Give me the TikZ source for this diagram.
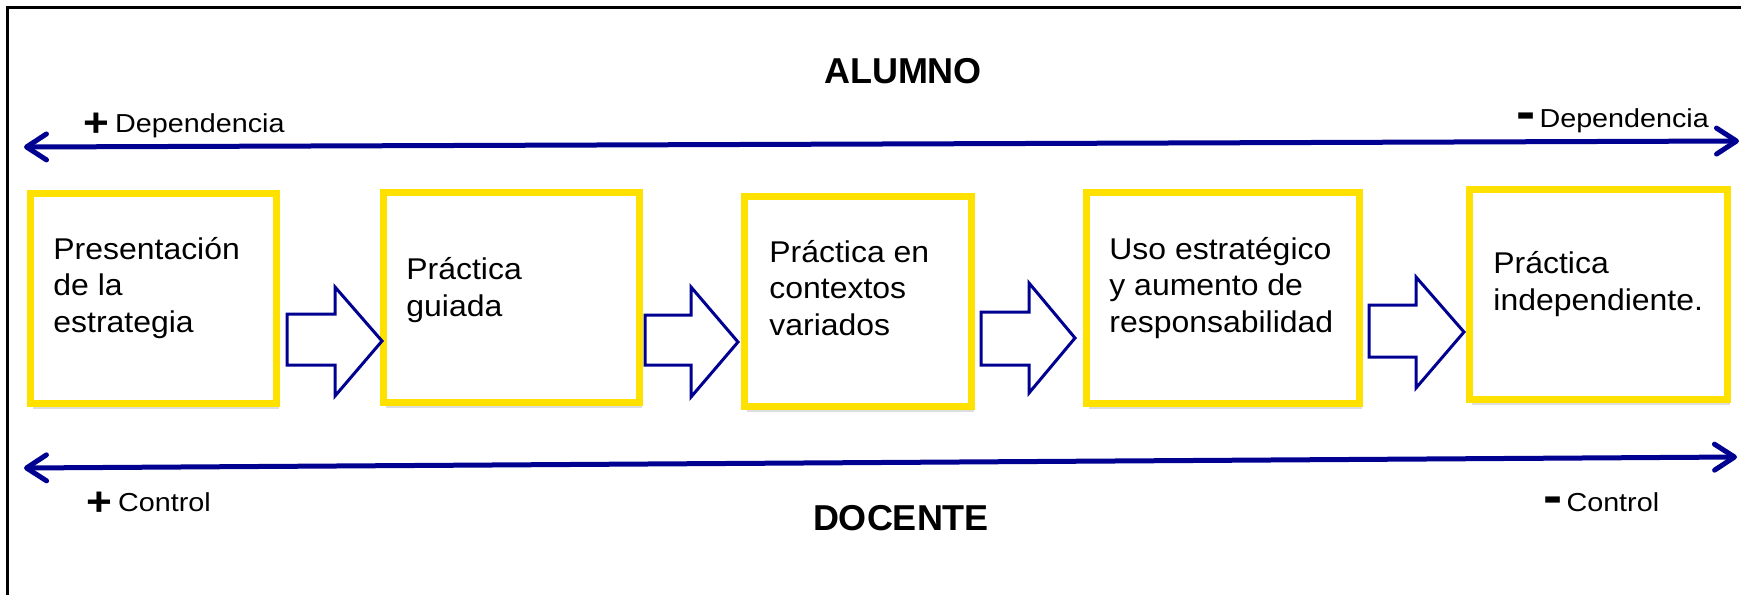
\documentclass[tikz,border=0pt]{standalone}
\usepackage{fontspec}
\setmainfont{Liberation Sans}
\newfontfamily\boxfont[FakeStretch=1.065]{Liberation Sans}
\newfontfamily\lblfont[FakeStretch=1.105]{Liberation Sans}
\usetikzlibrary{arrows.meta,shadows}
\definecolor{darknavy}{RGB}{0,0,145}
\definecolor{boxyellow}{RGB}{255,225,0}
\newcommand\mysignplus{\raisebox{-2.25pt}{\fontsize{20pt}{20pt}\selectfont\bfseries +}}
\newcommand\mysignminus{\raisebox{-1pt}{\fontsize{26pt}{26pt}\selectfont\bfseries -}}
\begin{document}
\begin{tikzpicture}[x=0.5pt,y=-0.5pt,
  stage/.style={draw=boxyellow, line width=3.75pt, fill=white, inner sep=0pt,
    drop shadow={shadow xshift=1pt,shadow yshift=-2.5pt,opacity=0.22,fill=black!60}},
  stagetext/.style={anchor=base west, inner sep=0pt, align=left,
    font=\boxfont\fontsize{15pt}{18.25pt}\selectfont},
  axisline/.style={draw=darknavy, line width=2.5pt,
    {Straight Barb[length=10pt,width=13pt,line cap=round,line join=round]}-{Straight Barb[length=10pt,width=13pt,line cap=round,line join=round]}},
  blockarrow/.style={draw=darknavy, line width=1.5pt, fill=white, line join=miter},
  lbl/.style={anchor=base west, inner sep=0pt, font=\lblfont\fontsize{13pt}{15pt}\selectfont},
  heading/.style={anchor=base, inner sep=0pt, font=\bfseries\fontsize{18pt}{22pt}\selectfont}]
\useasboundingbox (0,0) rectangle (1741,595);
% frame
\draw[line width=1.25pt] (7.5,595) -- (7.5,7.5) -- (1741,7.5);
% headings
\node[heading] (alumno) at (903,83) {ALUMNO};
\node[heading] (docente) at (901,530) {DOCENTE};
% axis labels
\node[lbl] (depplus) at (83,132) {\mysignplus\hspace{3pt}Dependencia};
\node[lbl] (depminus) at (1516,127) {\mysignminus\hspace{2pt}Dependencia};
\node[lbl] (conplus) at (86,511) {\mysignplus\hspace{3pt}Control};
\node[lbl] (conminus) at (1543,511) {\mysignminus\hspace{2pt}Control};
% axes
\coordinate (depL) at (24,147);
\coordinate (depR) at (1739,141);
\coordinate (conL) at (24,468);
\coordinate (conR) at (1737,457);
\draw[axisline] (depL) -- (depR);
\draw[axisline] (conL) -- (conR);
% stages
\node[stage, minimum width=123pt, minimum height=105pt] (b1) at (153.5,298.5) {};
\node[stage, minimum width=128pt, minimum height=105pt] (b2) at (511.5,297.5) {};
\node[stage, minimum width=113.5pt, minimum height=105pt] (b3) at (858,301.5) {};
\node[stage, minimum width=136.5pt, minimum height=105.5pt] (b4) at (1223,298) {};
\node[stage, minimum width=129pt, minimum height=105pt] (b5) at (1598.5,294.5) {};
% texts: base anchor is the baseline of the last line
\node[stagetext] (t1) at (53,332) {Presentación\\de la\\estrategia};
\node[stagetext] (t2) at (406,316) {Práctica\\guiada};
\node[stagetext] (t3) at (769,335) {Práctica en\\contextos\\variados};
\node[stagetext] (t4) at (1109,332) {Uso estratégico\\y aumento de\\responsabilidad};
\node[stagetext] (t5) at (1493,310) {Práctica\\independiente.};
% block arrows
\draw[blockarrow] (287,314) -- (335,314) -- (335,287) -- (382,341) -- (335,396) -- (335,365) -- (287,365) -- cycle;
\draw[blockarrow] (645,315) -- (691,315) -- (691,287) -- (738,342) -- (691,397) -- (691,365) -- (645,365) -- cycle;
\draw[blockarrow] (981,312) -- (1029,312) -- (1029,283) -- (1075,338) -- (1029,393) -- (1029,365) -- (981,365) -- cycle;
\draw[blockarrow] (1369,305) -- (1416,305) -- (1416,277) -- (1464,332) -- (1416,388) -- (1416,357) -- (1369,357) -- cycle;
\end{tikzpicture}
\end{document}
